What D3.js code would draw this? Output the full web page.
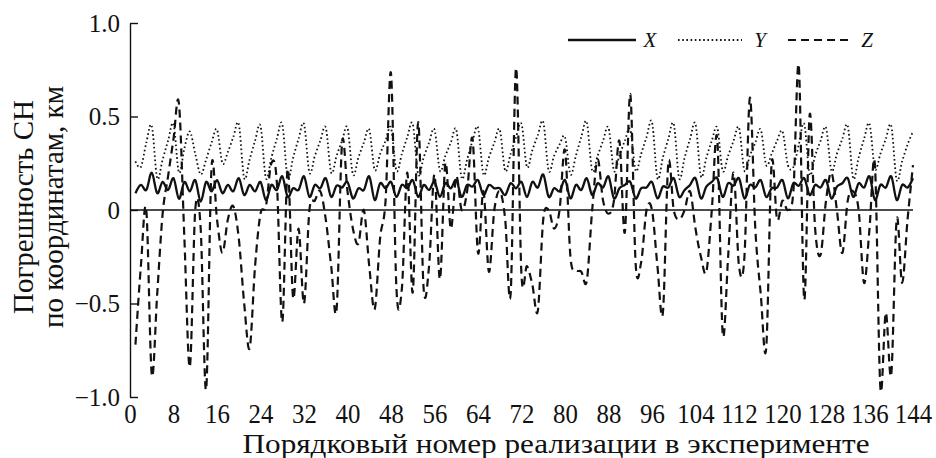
<!DOCTYPE html>
<html>
<head>
<meta charset="utf-8">
<script src="https://cdn.jsdelivr.net/npm/d3@7"></script>
<style>
  body { margin: 0; background: #fff; }
  svg text { font-family: "Liberation Serif", "Times New Roman", serif; fill: #111; }
</style>
</head>
<body>
<svg id="chart" width="936" height="458"></svg>
<script>
// Realization numbers 1..144
const xErr = [
  0.09, 0.134, 0.107, 0.2, 0.09, 0.15, 0.107, 0.17,
  0.06, 0.15, 0.10, 0.16, 0.045, 0.15, 0.10, 0.16,
  0.09, 0.134, 0.10, 0.17, 0.08, 0.134, 0.10, 0.15,
  0.053, 0.134, 0.107, 0.18, 0.07, 0.116, 0.107, 0.18,
  0.07, 0.134, 0.116, 0.17, 0.07, 0.13, 0.12, 0.15,
  0.062, 0.116, 0.107, 0.18, 0.053, 0.143, 0.116, 0.15,
  0.07, 0.134, 0.116, 0.16, 0.07, 0.134, 0.107, 0.15,
  0.07, 0.143, 0.116, 0.16, 0.07, 0.134, 0.125, 0.16,
  0.08, 0.134, 0.116, 0.116, 0.08, 0.143, 0.116, 0.15,
  0.07, 0.15, 0.12, 0.19, 0.07, 0.116, 0.10, 0.16,
  0.062, 0.134, 0.107, 0.17, 0.08, 0.143, 0.12, 0.18,
  0.062, 0.116, 0.134, 0.15, 0.062, 0.116, 0.12, 0.15,
  0.062, 0.125, 0.12, 0.17, 0.07, 0.107, 0.134, 0.17,
  0.062, 0.125, 0.15, 0.17, 0.07, 0.143, 0.13, 0.17,
  0.062, 0.134, 0.12, 0.16, 0.07, 0.116, 0.12, 0.16,
  0.062, 0.143, 0.13, 0.17, 0.08, 0.134, 0.12, 0.16,
  0.062, 0.125, 0.143, 0.17, 0.07, 0.143, 0.12, 0.18,
  0.053, 0.134, 0.12, 0.18, 0.053, 0.134, 0.12, 0.17
];

const yErr = [
  0.26, 0.23, 0.36, 0.45, 0.17, 0.27, 0.37, 0.46,
  0.2, 0.33, 0.42, 0.3, 0.19, 0.27, 0.36, 0.43,
  0.25, 0.31, 0.39, 0.46, 0.17, 0.27, 0.37, 0.45,
  0.17, 0.28, 0.38, 0.46, 0.17, 0.28, 0.38, 0.46,
  0.2, 0.29, 0.37, 0.44, 0.2, 0.29, 0.37, 0.44,
  0.19, 0.28, 0.36, 0.43, 0.215, 0.3, 0.37, 0.44,
  0.21, 0.3, 0.39, 0.46, 0.19, 0.28, 0.36, 0.43,
  0.21, 0.29, 0.36, 0.43, 0.17, 0.27, 0.37, 0.44,
  0.19, 0.28, 0.36, 0.43, 0.21, 0.3, 0.39, 0.46,
  0.23, 0.32, 0.4, 0.47, 0.21, 0.29, 0.35, 0.39,
  0.19, 0.29, 0.39, 0.47, 0.21, 0.29, 0.37, 0.44,
  0.21, 0.29, 0.37, 0.43, 0.21, 0.3, 0.39, 0.47,
  0.17, 0.28, 0.38, 0.46, 0.17, 0.28, 0.38, 0.46,
  0.18, 0.28, 0.37, 0.44, 0.21, 0.29, 0.37, 0.44,
  0.21, 0.29, 0.36, 0.43, 0.24, 0.3, 0.37, 0.42,
  0.24, 0.23, 0.35, 0.46, 0.19, 0.29, 0.37, 0.44,
  0.21, 0.3, 0.38, 0.45, 0.17, 0.28, 0.38, 0.46,
  0.22, 0.3, 0.38, 0.45, 0.16, 0.26, 0.35, 0.42
];

const zErr = [
  -0.72, -0.3, 0.0, -0.88, -0.45, -0.02, 0.18, 0.38,
  0.57, -0.15, -0.84, 0.0, -0.1, -0.96, 0.23, -0.05,
  -0.23, -0.05, 0.02, -0.15, -0.5, -0.74, -0.3, -0.02,
  0.02, 0.25, 0.15, -0.6, 0.22, -0.47, -0.1, -0.5,
  0.0, 0.05, 0.1, -0.05, -0.3, -0.53, 0.36, 0.1,
  -0.1, -0.18, 0.0, -0.3, -0.53, -0.15, 0.05, 0.73,
  -0.42, -0.42, 0.2, -0.44, 0.47, -0.42, -0.3, 0.19,
  -0.37, 0.25, -0.1, 0.18, 0.0, 0.1, 0.38, -0.23,
  0.1, -0.33, 0.0, 0.1, -0.05, -0.45, 0.76, -0.35,
  -0.3, -0.4, -0.54, -0.05, 0.0, -0.1, 0.0, 0.32,
  -0.25, -0.32, -0.33, -0.38, 0.0, 0.27, 0.05, -0.02,
  0.05, 0.37, -0.12, 0.62, -0.29, -0.28, 0.0, 0.0,
  -0.3, -0.55, 0.25, 0.0, -0.05, 0.0, 0.1, -0.1,
  -0.25, -0.33, 0.0, 0.38, -0.66, -0.25, 0.2, -0.3,
  -0.25, 0.6, -0.1, -0.45, -0.74, 0.25, -0.05, 0.05,
  0.0, 0.1, 0.77, -0.48, 0.51, -0.1, -0.24, 0.05,
  0.2, 0.0, -0.23, 0.05, 0.1, 0.0, -0.39, -0.1,
  0.24, -0.95, -0.55, -0.88, -0.05, -0.39, -0.05, 0.24
];

const xTicks = d3.range(0, 145, 8);
const yTicks = [-1, -0.5, 0, 0.5, 1];
const yTickLabels = ["\u22121.0", "\u22120.5", "0", "0.5", "1.0"];
const seriesNames = ["X", "Y", "Z"];

const svg = d3.select("#chart");
const ink = "#111";
const serif = "Liberation Serif, serif";

const x = d3.scaleLinear().domain([0, 144]).range([130, 913]);
const y = d3.scaleLinear().domain([-1, 1]).range([397, 23]);

// y axis, ticks pointing into the plot
const yAxis = svg.append("g")
    .attr("transform", `translate(${x(0)},0)`)
    .call(d3.axisLeft(y)
        .tickValues(yTicks)
        .tickFormat((d, i) => yTickLabels[i])
        .tickSizeInner(-8)
        .tickSizeOuter(0)
        .tickPadding(10));
yAxis.selectAll("path, line").attr("stroke", ink).attr("stroke-width", 1.4);
yAxis.selectAll("text").attr("font-size", 25).attr("fill", ink)
    .style("font-family", serif);

// x tick labels only (narrow, tall digits in the original)
const xAxis = svg.append("g")
    .attr("transform", `translate(0,${y(-1)})`)
    .call(d3.axisBottom(x).tickValues(xTicks).tickSize(0).tickPadding(6.8));
xAxis.select(".domain").remove();
xAxis.selectAll("text").attr("font-size", 27).attr("fill", ink)
    .attr("transform", "scale(0.92,1)")
    .style("font-family", serif);

// zero line
svg.append("line")
    .attr("x1", x(0)).attr("x2", x(144))
    .attr("y1", y(0)).attr("y2", y(0))
    .attr("stroke", ink).attr("stroke-width", 1.4);

const line = d3.line()
    .x((d, i) => x(i + 1))
    .y(d => y(d))
    .curve(d3.curveCardinal.tension(0));

const styles = {
    X: { dash: null, width: 2.3 },
    Y: { dash: "1.6,2.6", width: 1.8 },
    Z: { dash: "8,5", width: 2.2 }
};
const seriesData = { X: xErr, Y: yErr, Z: zErr };

seriesNames.forEach(name => {
    svg.append("path")
        .datum(seriesData[name])
        .attr("fill", "none")
        .attr("stroke", ink)
        .attr("stroke-width", styles[name].width)
        .attr("stroke-dasharray", styles[name].dash)
        .attr("d", line);
});

// legend
const legendItems = [
    { name: "X", x1: 568, x2: 636, tx: 650 },
    { name: "Y", x1: 678, x2: 742, tx: 760 },
    { name: "Z", x1: 788, x2: 852, tx: 867 }
];
legendItems.forEach(it => {
    svg.append("line")
        .attr("x1", it.x1).attr("x2", it.x2)
        .attr("y1", 40).attr("y2", 40)
        .attr("stroke", ink)
        .attr("stroke-width", styles[it.name].width)
        .attr("stroke-dasharray", styles[it.name].dash);
    svg.append("text")
        .attr("x", it.tx).attr("y", 47)
        .attr("text-anchor", "middle")
        .attr("font-size", 21)
        .attr("font-style", "italic")
        .text(it.name);
});

// axis titles
svg.append("text")
    .attr("x", 556).attr("y", 453)
    .attr("text-anchor", "middle")
    .attr("font-size", 28)
    .attr("textLength", 627)
    .attr("lengthAdjust", "spacingAndGlyphs")
    .text("Порядковый номер реализации в эксперименте");

const yTitle = svg.append("g")
    .attr("transform", `translate(0,207) rotate(-90)`);
yTitle.append("text")
    .attr("x", 0).attr("y", 33)
    .attr("text-anchor", "middle")
    .attr("font-size", 29)
    .text("Погрешность СН");
yTitle.append("text")
    .attr("x", 0).attr("y", 63)
    .attr("text-anchor", "middle")
    .attr("font-size", 29)
    .text("по координатам, км");
</script>
</body>
</html>
